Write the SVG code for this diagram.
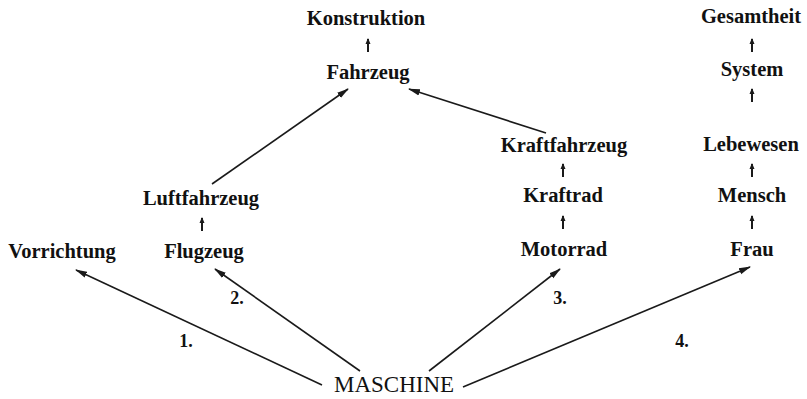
<svg xmlns="http://www.w3.org/2000/svg" width="807" height="399" viewBox="0 0 807 399">
  <style>
    .lbl { font-family: "Liberation Serif", "Times New Roman", serif; font-size: 20.5px; font-weight: bold; fill: #111; text-anchor: middle; }
    .root { font-family: "Liberation Serif", "Times New Roman", serif; font-size: 23px; fill: #111; text-anchor: middle; }
    .num { font-family: "Liberation Serif", "Times New Roman", serif; font-size: 18px; font-weight: bold; fill: #111; text-anchor: middle; }
    .edge { stroke: #1a1a1a; stroke-width: 1.6; fill: none; marker-end: url(#head); }
    .up { stroke: #1a1a1a; stroke-width: 2; fill: none; marker-end: url(#smallhead); }
  </style>
  <defs>
    <marker id="head" viewBox="0 0 12 8" refX="11" refY="4" markerWidth="12" markerHeight="8" markerUnits="userSpaceOnUse" orient="auto">
      <path d="M0,0.8 L12,4 L0,7.2 Z" fill="#1a1a1a"/>
    </marker>
    <marker id="smallhead" viewBox="0 0 6 6" refX="5" refY="3" markerWidth="6" markerHeight="6" markerUnits="userSpaceOnUse" orient="auto">
      <path d="M0,0.5 L6,3 L0,5.5 Z" fill="#1a1a1a"/>
    </marker>
  </defs>
  <rect width="807" height="399" fill="#ffffff"/>

  <!-- nodes -->
  <g id="konstruktion"><text class="lbl" x="366" y="25">Konstruktion</text></g>
  <g id="fahrzeug"><text class="lbl" x="368" y="79">Fahrzeug</text></g>
  <g id="luftfahrzeug"><text class="lbl" x="201" y="205">Luftfahrzeug</text></g>
  <g id="flugzeug"><text class="lbl" x="204" y="258">Flugzeug</text></g>
  <g id="vorrichtung"><text class="lbl" x="62" y="258">Vorrichtung</text></g>
  <g id="kraftfahrzeug"><text class="lbl" x="564" y="152">Kraftfahrzeug</text></g>
  <g id="kraftrad"><text class="lbl" x="563" y="202">Kraftrad</text></g>
  <g id="motorrad"><text class="lbl" x="564" y="256">Motorrad</text></g>
  <g id="gesamtheit"><text class="lbl" x="751" y="23">Gesamtheit</text></g>
  <g id="system"><text class="lbl" x="752" y="76">System</text></g>
  <g id="lebewesen"><text class="lbl" x="751" y="151">Lebewesen</text></g>
  <g id="mensch"><text class="lbl" x="752" y="202">Mensch</text></g>
  <g id="frau"><text class="lbl" x="752" y="256">Frau</text></g>
  <g id="maschine"><text class="root" x="394" y="392">MASCHINE</text></g>

  <!-- connectors -->
  <g id="connectors">
    <!-- small vertical arrows within each chain -->
    <line class="up" x1="368" y1="52" x2="368" y2="39"/>
    <line class="up" x1="752" y1="52" x2="752" y2="39"/>
    <line class="up" x1="752" y1="102" x2="752" y2="89"/>
    <line class="up" x1="752" y1="177" x2="752" y2="164"/>
    <line class="up" x1="752" y1="229" x2="752" y2="216"/>
    <line class="up" x1="563" y1="177" x2="563" y2="164"/>
    <line class="up" x1="563" y1="229" x2="563" y2="216"/>
    <line class="up" x1="202" y1="231" x2="202" y2="218"/>

    <!-- upper links into Fahrzeug -->
    <line class="edge" x1="212" y1="184" x2="348" y2="89"/>
    <line class="edge" x1="546" y1="133" x2="409" y2="89"/>

    <!-- links from MASCHINE -->
    <line class="edge" x1="322" y1="385" x2="76" y2="270"/>
    <line class="edge" x1="360" y1="371" x2="215" y2="269"/>
    <line class="edge" x1="429" y1="371" x2="560" y2="269"/>
    <line class="edge" x1="463" y1="387" x2="750" y2="267"/>

    <!-- link numbers -->
    <text class="num" x="186" y="347">1.</text>
    <text class="num" x="237" y="304">2.</text>
    <text class="num" x="560" y="304">3.</text>
    <text class="num" x="682" y="347">4.</text>
  </g>
</svg>
